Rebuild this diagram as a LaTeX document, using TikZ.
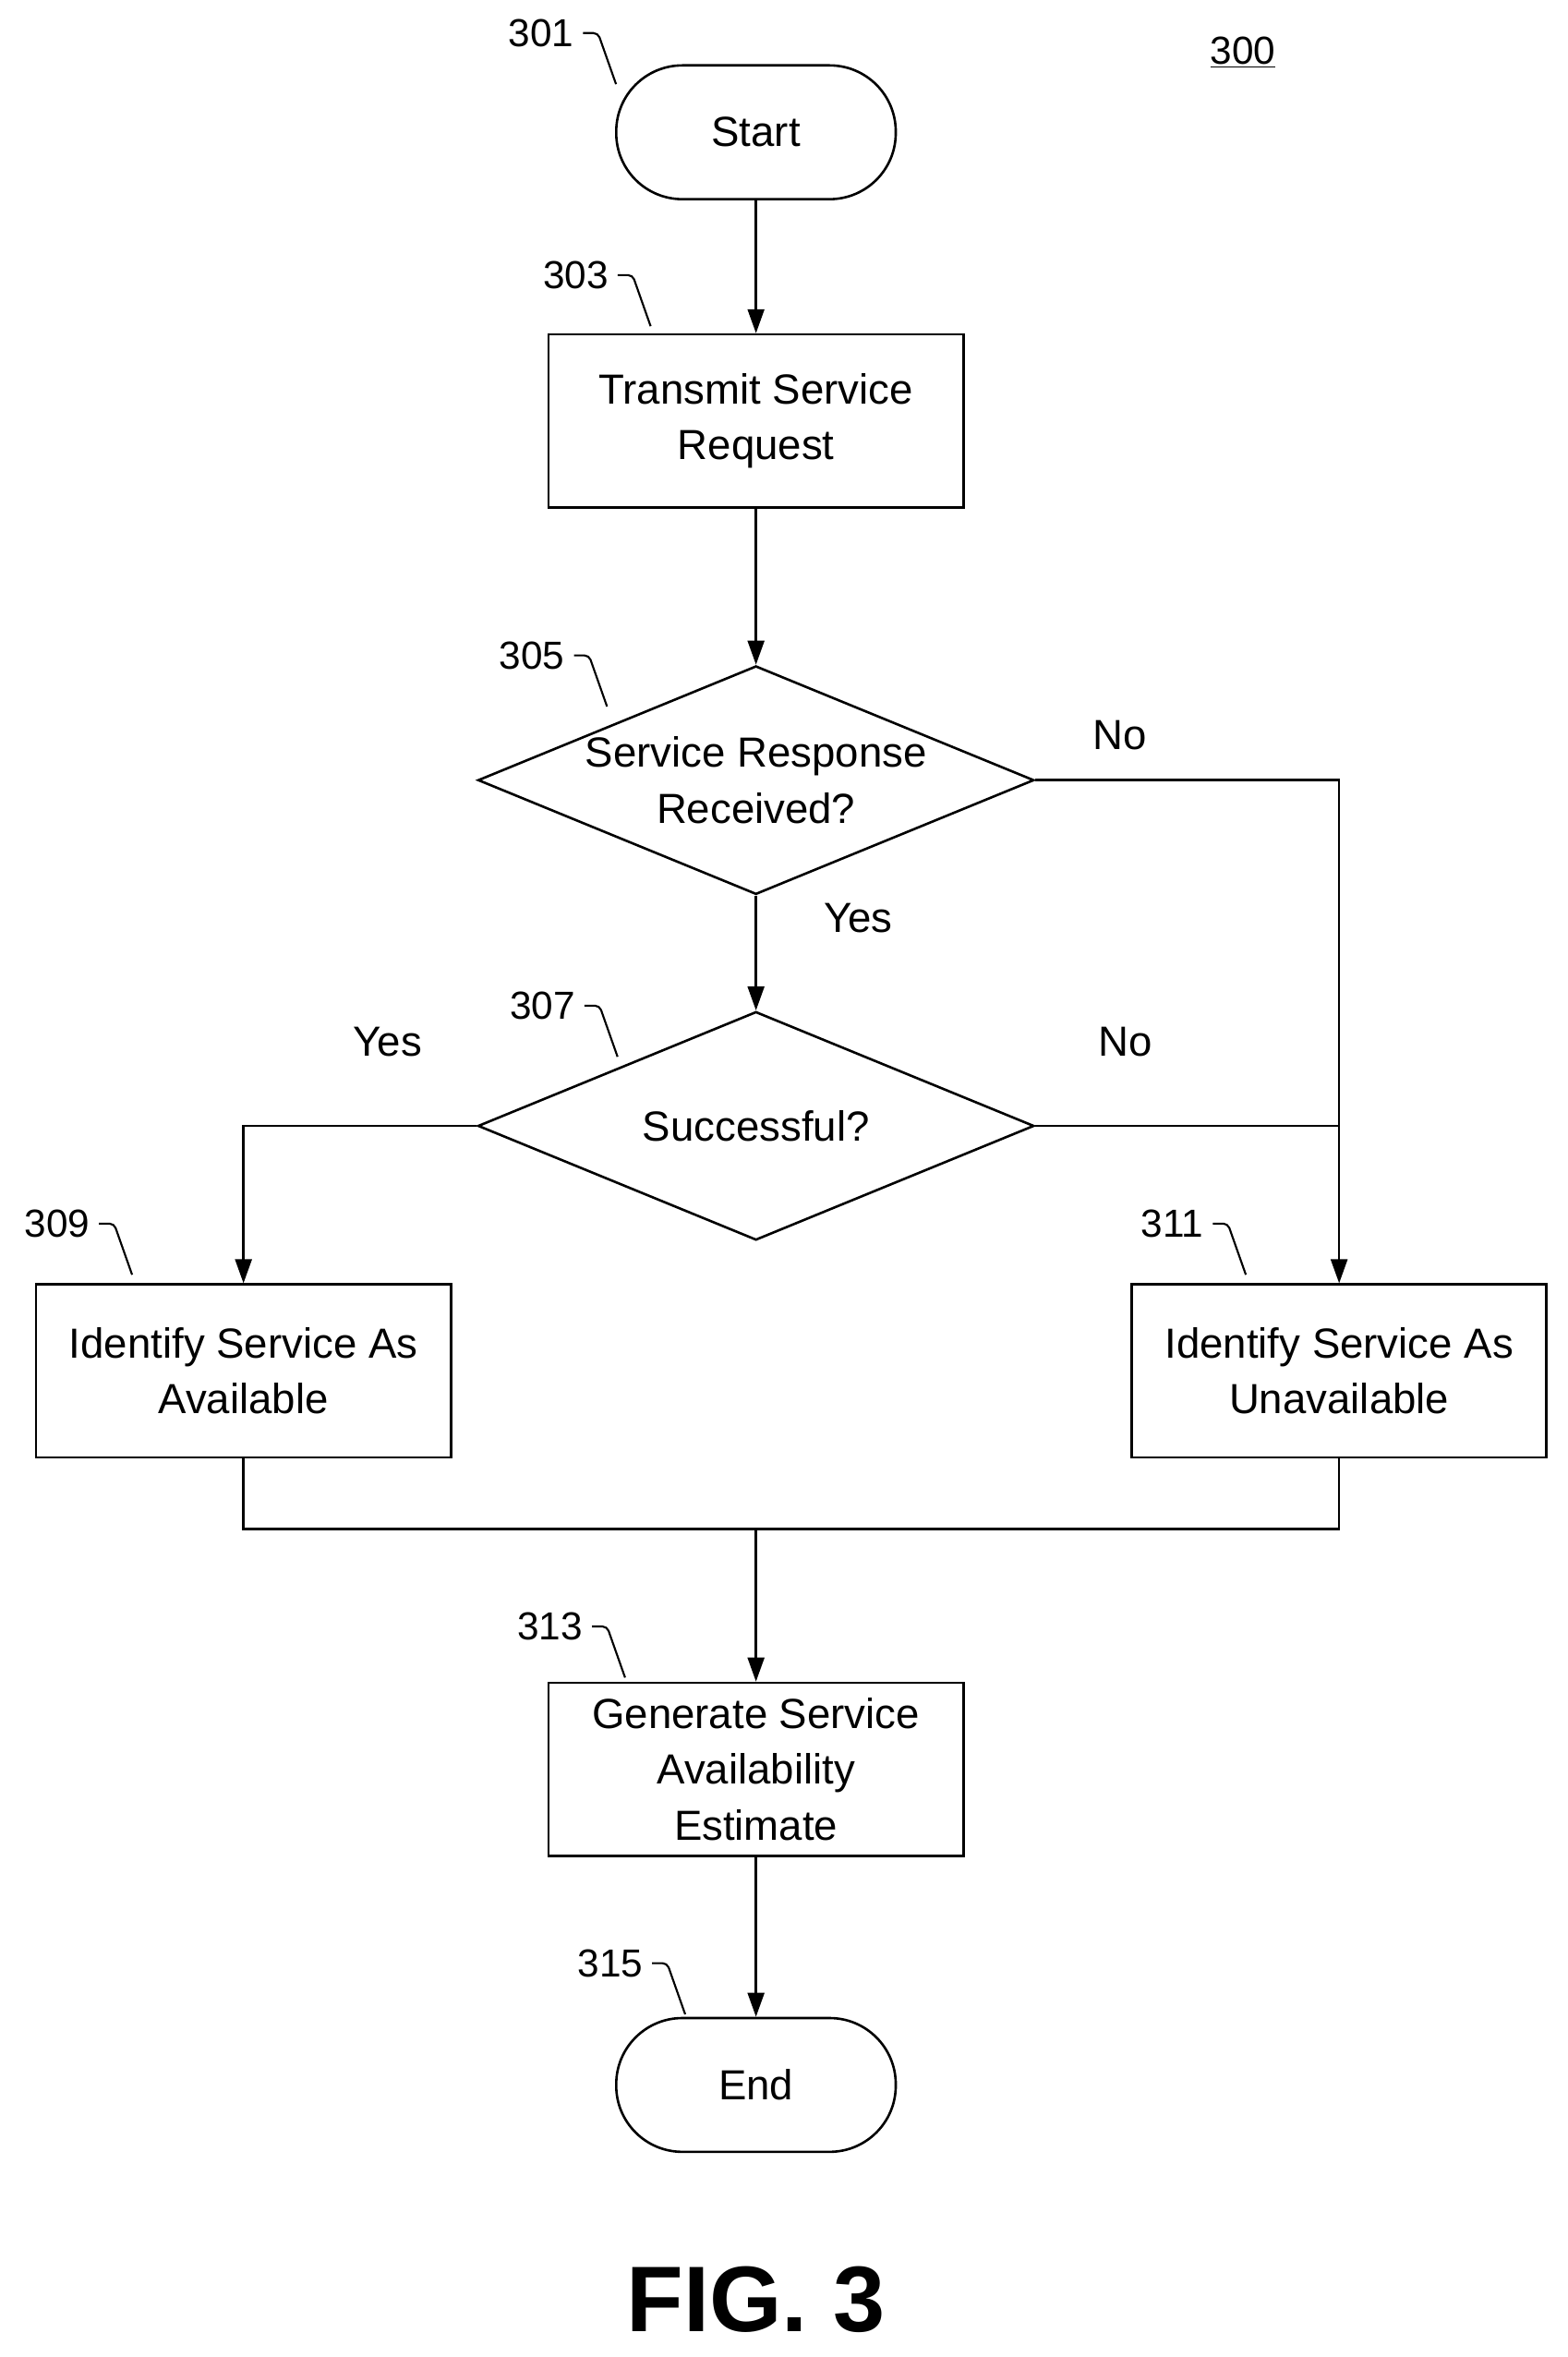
\documentclass[tikz,border=0pt]{standalone}
\usepackage{fontspec}
\setmainfont{Liberation Sans}
\usetikzlibrary{arrows.meta,shapes.geometric}
\tikzset{box/.style={draw,line width=1.6pt,minimum width=276pt,minimum height=115pt,align=center,inner sep=0pt},
    term/.style={draw,line width=1.6pt,minimum width=186pt,minimum height=89pt,rounded corners=44pt,inner sep=0pt},
    dec/.style={draw,diamond,aspect=2.43,line width=1.6pt,minimum width=370pt,minimum height=152pt,inner sep=0pt,align=center},
    ref/.style={font=\fontsize{26}{30}\selectfont,inner sep=0pt},
    flow/.style={line width=1.6pt,-{Triangle[length=16pt,width=11pt]}},
    tick/.style={line width=1.3pt,rounded corners=3pt}}
\begin{document}
\begin{tikzpicture}[x=1pt,y=-1pt,font=\fontsize{28}{37}\selectfont]
\useasboundingbox (0,0) rectangle (1043,1568);

%Shapes
\node [term] (start) at (503,88) {Start};
\node [box] (req) at (503,280) {Transmit Service\\Request};
\node [dec] (resp) at (503,519) {Service Response\\Received?};
\node [dec] (succ) at (503,749) {Successful?};
\node [box] (avail) at (162,912) {Identify Service As\\Available};
\node [box] (unavail) at (891,912) {Identify Service As\\Unavailable};
\node [box] (est) at (503,1177) {Generate Service\\Availability\\Estimate};
\node [term] (end) at (503,1387) {End};
\coordinate (join) at (503,1017);

%Connectors
\draw [flow] (start) -- (req);
\draw [flow] (req) -- (resp);
\draw [flow] (resp) -- (succ);
\draw [flow] (resp.east) -| (unavail.north);
\draw [line width=1.6pt] (succ.east) -- (unavail.north |- succ.east);
\draw [flow] (succ.west) -| (avail.north);
\draw [line width=1.6pt] (avail.south) |- (join) -| (unavail.south);
\draw [flow] (join) -- (est);
\draw [flow] (est) -- (end);

% Text Node
\node (no1) at (745,489) {No};
\node (yes1) at (571,611) {Yes};
\node (yes2) at (258,693) {Yes};
\node (no2) at (749,693) {No};
\node [ref] (n300) at (827,35) {\underline{300}};
\node [font=\bfseries\fontsize{62}{70}\selectfont] (fig) at (503,1530) {FIG. 3};

%Reference numerals
\node [ref] (n301) at (360,22) {301};
\node [ref] (n303) at (383,183) {303};
\node [ref] (n305) at (354,436) {305};
\node [ref] (n307) at (361,669) {307};
\node [ref] (n309) at (38,814) {309};
\node [ref] (n311) at (780,814) {311};
\node [ref] (n313) at (366,1082) {313};
\node [ref] (n315) at (406,1306) {315};
\foreach \n/\dx/\dy in {301/-3/0,303/0/0,305/0/0,307/0/0,309/0/0,311/0/0,313/0/0,315/0/0}
  \draw [tick] ([xshift=6pt]n\n.east) -- ++(10,0) -- ++(12,34);
\end{tikzpicture}
\end{document}
